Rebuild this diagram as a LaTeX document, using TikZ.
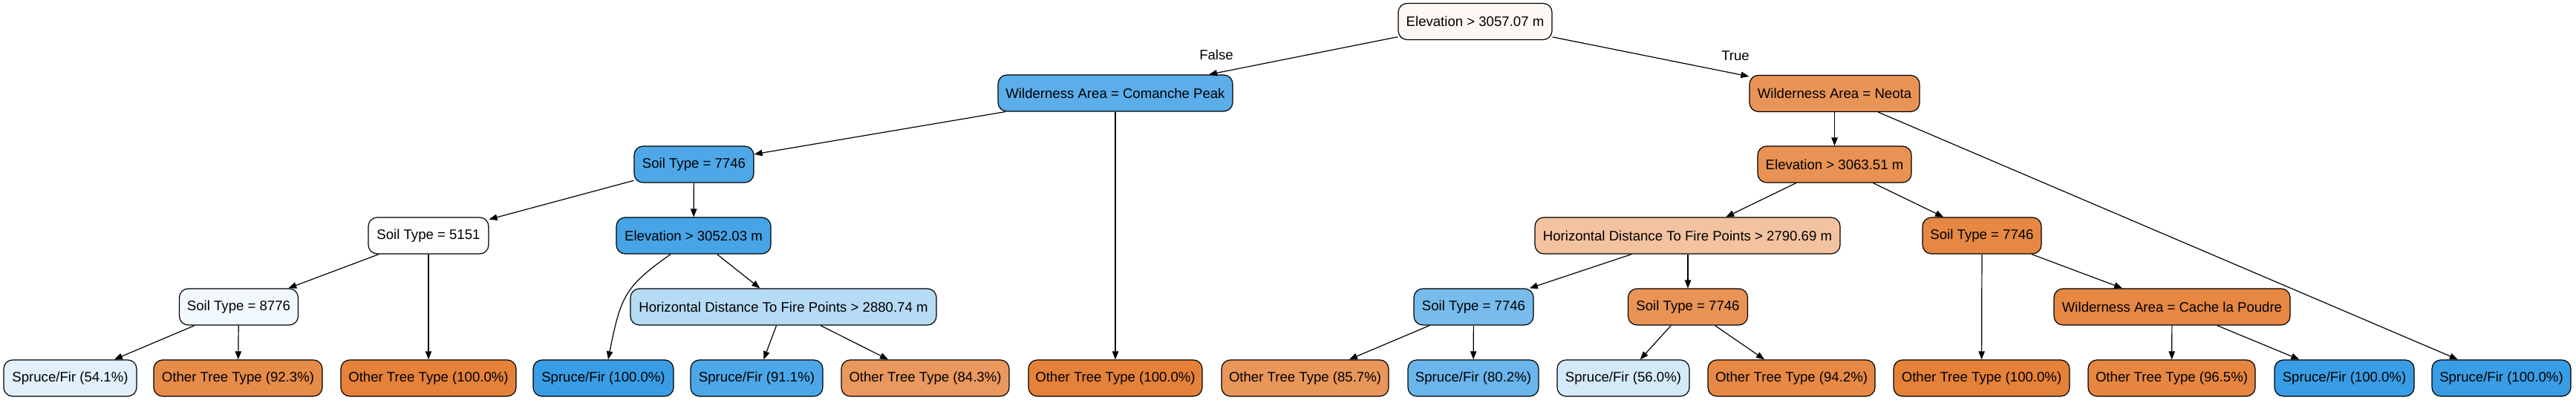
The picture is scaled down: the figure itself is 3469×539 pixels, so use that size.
\documentclass[tikz,border=0pt]{standalone}
\usepackage{fontspec}
\setmainfont{Liberation Sans}
\usetikzlibrary{arrows.meta}
\definecolor{cRoot}{HTML}{FDF8F3}
\definecolor{cCom}{HTML}{5BAEE9}
\definecolor{cNeo}{HTML}{E99457}
\definecolor{cSTa}{HTML}{4EA8E8}
\definecolor{cEa}{HTML}{E89253}
\definecolor{cSfive}{HTML}{FFFDFB}
\definecolor{cEb}{HTML}{46A4E7}
\definecolor{cHDa}{HTML}{F3C3A1}
\definecolor{cSTb}{HTML}{E68844}
\definecolor{cSeight}{HTML}{F1F8FE}
\definecolor{cHDb}{HTML}{B6DBF5}
\definecolor{cSTc}{HTML}{78BCED}
\definecolor{cSTd}{HTML}{E99355}
\definecolor{cCache}{HTML}{E68743}
\definecolor{lA}{HTML}{E1F0FB}
\definecolor{lB}{HTML}{E78B49}
\definecolor{lOr}{HTML}{E58139}
\definecolor{lBl}{HTML}{399DE5}
\definecolor{lE}{HTML}{4CA7E8}
\definecolor{lF}{HTML}{EA985E}
\definecolor{lH}{HTML}{E9965A}
\definecolor{lI}{HTML}{6AB5EB}
\definecolor{lJ}{HTML}{D5EAF9}
\definecolor{lK}{HTML}{E78945}
\definecolor{lM}{HTML}{E68640}
\tikzset{
  box/.style={draw=black, line width=0.6pt, rounded corners=6pt, minimum height=24.5pt,
    inner xsep=2pt, inner ysep=0pt, font=\fontsize{9.3}{11}\selectfont, text=black},
  edge/.style={draw=black, line width=0.6pt, -{Triangle[length=5.5pt,width=4.2pt]}},
  lbl/.style={font=\fontsize{9.3}{11}\selectfont, text=black, inner sep=0pt}
}
\begin{document}
\begin{tikzpicture}[x=0.5pt,y=-0.5pt]
\useasboundingbox (0,0) rectangle (3469,539);
\fill[white] (0,0) rectangle (3469,539);
% level 0
\node[box, fill=cRoot, minimum width=103.5pt] (root) at (1986.5,29) {Elevation > 3057.07 m};
% level 1
\node[box, fill=cCom, minimum width=158pt] (com) at (1502,125.5) {Wilderness Area = Comanche Peak};
\node[box, fill=cNeo, minimum width=114.5pt] (neo) at (2470.5,126) {Wilderness Area = Neota};
% level 2
\node[box, fill=cSTa, minimum width=80.5pt] (sta) at (934.5,221.5) {Soil Type = 7746};
\node[box, fill=cEa, minimum width=103.5pt] (ea) at (2470.5,221.5) {Elevation > 3063.51 m};
% level 3
\node[box, fill=cSfive, minimum width=81pt] (sfive) at (577,317.5) {Soil Type = 5151};
\node[box, fill=cEb, minimum width=104pt] (eb) at (934,317.5) {Elevation > 3052.03 m};
\node[box, fill=cHDa, minimum width=205.5pt] (hda) at (2272.5,317.5) {Horizontal Distance To Fire Points > 2790.69 m};
\node[box, fill=cSTb, minimum width=80pt] (stb) at (2669,317.5) {Soil Type = 7746};
% level 4
\node[box, fill=cSeight, minimum width=80pt] (seight) at (321.5,413.5) {Soil Type = 8776};
\node[box, fill=cHDb, minimum width=206pt] (hdb) at (1055,413.5) {Horizontal Distance To Fire Points > 2880.74 m};
\node[box, fill=cSTc, minimum width=80.5pt] (stc) at (1984.5,413.5) {Soil Type = 7746};
\node[box, fill=cSTd, minimum width=80.5pt] (std) at (2273,413.5) {Soil Type = 7746};
\node[box, fill=cCache, minimum width=159pt] (cache) at (2925,413.5) {Wilderness Area = Cache la Poudre};
% leaves
\node[box, fill=lA, minimum width=89.5pt] (l1) at (94.5,509.5) {Spruce/Fir (54.1\%)};
\node[box, fill=lB, minimum width=113.5pt] (l2) at (320.5,509.5) {Other Tree Type (92.3\%)};
\node[box, fill=lOr, minimum width=118pt] (l3) at (577,509.5) {Other Tree Type (100.0\%)};
\node[box, fill=lBl, minimum width=94.5pt] (l4) at (812.5,509.5) {Spruce/Fir (100.0\%)};
\node[box, fill=lE, minimum width=89pt] (l5) at (1019,509.5) {Spruce/Fir (91.1\%)};
\node[box, fill=lF, minimum width=113pt] (l6) at (1246,509.5) {Other Tree Type (84.3\%)};
\node[box, fill=lOr, minimum width=117pt] (l7) at (1502,509.5) {Other Tree Type (100.0\%)};
\node[box, fill=lH, minimum width=112.5pt] (l8) at (1757.5,509.5) {Other Tree Type (85.7\%)};
\node[box, fill=lI, minimum width=88pt] (l9) at (1984,509.5) {Spruce/Fir (80.2\%)};
\node[box, fill=lJ, minimum width=89pt] (l10) at (2186,509.5) {Spruce/Fir (56.0\%)};
\node[box, fill=lK, minimum width=112.5pt] (l11) at (2412.5,509.5) {Other Tree Type (94.2\%)};
\node[box, fill=lOr, minimum width=118.5pt] (l12) at (2668.5,509.5) {Other Tree Type (100.0\%)};
\node[box, fill=lM, minimum width=112.5pt] (l13) at (2924.5,509.5) {Other Tree Type (96.5\%)};
\node[box, fill=lBl, minimum width=94pt] (l14) at (3157,509.5) {Spruce/Fir (100.0\%)};
\node[box, fill=lBl, minimum width=93.5pt] (l15) at (3368.5,509.5) {Spruce/Fir (100.0\%)};
% edge labels
\node[lbl] (lfalse) at (1638,74) {False};
\node[lbl] (ltrue) at (2337,75) {True};
% edges
\draw[edge] (root) -- (com);
\draw[edge] (root) -- (neo);
\draw[edge] (com) -- (sta);
\draw[edge] (com) -- (l7);
\draw[edge] (neo) -- (ea);
\draw[edge] (neo) -- (l15);
\draw[edge] (sta) -- (sfive);
\draw[edge] (sta) -- (eb);
\draw[edge] (ea) -- (hda);
\draw[edge] (ea) -- (stb);
\draw[edge] (sfive) -- (seight);
\draw[edge] (sfive) -- (l3);
\draw[edge] ([xshift=-15.5pt]eb.south) .. controls (842,386) and (836,398) .. ([xshift=3.25pt]l4.north);
\draw[edge] (eb) -- (hdb);
\draw[edge] (hda) -- (stc);
\draw[edge] (hda.south -| std.north) -- (std.north);
\draw[edge] (stb) -- (l12);
\draw[edge] (stb) -- (cache);
\draw[edge] (seight) -- (l1);
\draw[edge] (seight) -- (l2);
\draw[edge] (hdb) -- (l5);
\draw[edge] (hdb) -- (l6);
\draw[edge] (stc) -- (l8);
\draw[edge] (stc) -- (l9);
\draw[edge] (std) -- (l10);
\draw[edge] (std) -- (l11);
\draw[edge] (cache) -- (l13);
\draw[edge] (cache) -- (l14);
\end{tikzpicture}
\end{document}
